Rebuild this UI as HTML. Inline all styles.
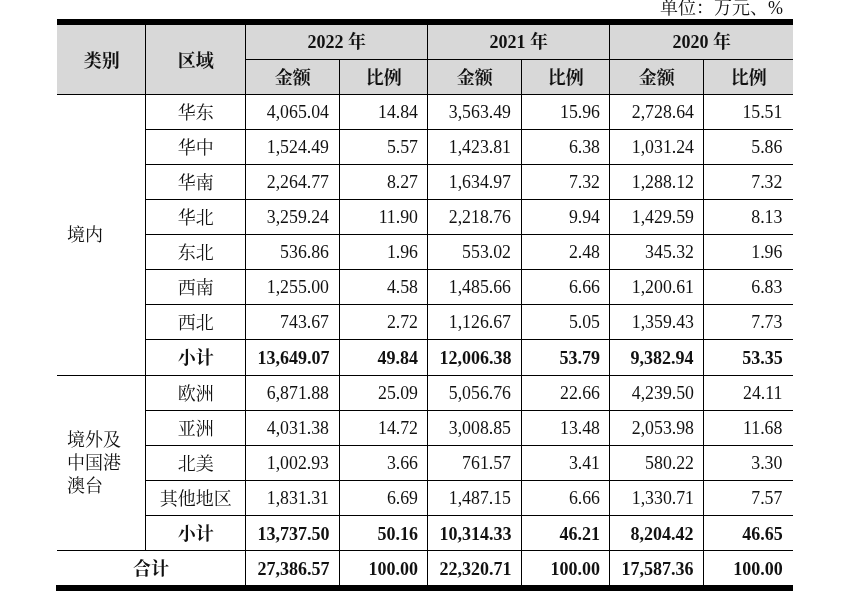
<!DOCTYPE html>
<html lang="zh-CN"><head><meta charset="utf-8"><title>table</title>
<style>
html,body{margin:0;padding:0;background:#fff;}
body{width:866px;height:602px;position:relative;overflow:hidden;
 font-family:"Liberation Serif","Noto Serif CJK SC",serif;font-size:18px;color:#111;}
.c,.cat{position:absolute;display:flex;align-items:center;box-sizing:border-box;white-space:nowrap;line-height:1;}
.c span,.cat span{display:block;position:relative;top:1px;}
.ctr{justify-content:center;text-align:center;}
.num{justify-content:flex-end;padding-right:10px;font-size:17.8px;}
.num.b{font-size:18px;padding-right:9.6px;}
.num.p,.num.p.b{padding-right:9px;}
.num.p3{padding-right:10.6px;}
.num.a3{padding-right:9px;}
.num.a3.b{padding-right:9.6px;}
.num.p3.b{padding-right:10.2px;}
.num span{top:1px}
.b,.h{font-weight:bold;}
.h{color:#111}
.cat{justify-content:flex-start;padding-left:10px;line-height:23px;white-space:normal;}
.l{position:absolute;background:#000;}
.bg{position:absolute;background:#d8d8d8;}
.cap{position:absolute;left:660px;top:-1.4px;white-space:nowrap;line-height:1;font-size:18px;}
</style></head><body>
<div class="bg" style="left:57px;top:19px;width:736px;height:75px"></div>
<div class="l" style="left:57px;top:19px;width:736px;height:6px"></div>
<div class="l" style="left:56px;top:585px;width:737px;height:6px"></div>
<div class="cap">单位：万元、%</div>
<div class="c h ctr" style="left:57.7px;top:25.0px;width:88.0px;height:69.0px;"><span>类别</span></div>
<div class="c h ctr" style="left:145.7px;top:25.0px;width:100.0px;height:69.0px;"><span>区域</span></div>
<div class="c h ctr" style="left:245.7px;top:23.6px;width:182.0px;height:35.4px;"><span>2022 年</span></div>
<div class="c h ctr" style="left:245.7px;top:59.0px;width:94.0px;height:35.0px;"><span>金额</span></div>
<div class="c h ctr" style="left:339.7px;top:59.0px;width:88.0px;height:35.0px;"><span>比例</span></div>
<div class="c h ctr" style="left:427.7px;top:23.6px;width:182.0px;height:35.4px;"><span>2021 年</span></div>
<div class="c h ctr" style="left:427.7px;top:59.0px;width:94.0px;height:35.0px;"><span>金额</span></div>
<div class="c h ctr" style="left:521.7px;top:59.0px;width:88.0px;height:35.0px;"><span>比例</span></div>
<div class="c h ctr" style="left:609.7px;top:23.6px;width:184.0px;height:35.4px;"><span>2020 年</span></div>
<div class="c h ctr" style="left:609.7px;top:59.0px;width:94.0px;height:35.0px;"><span>金额</span></div>
<div class="c h ctr" style="left:703.7px;top:59.0px;width:90.0px;height:35.0px;"><span>比例</span></div>
<div class="c ctr" style="left:145.7px;top:94.0px;width:100.0px;height:35.0px;"><span>华东</span></div>
<div class="c num" style="left:245.0px;top:94.0px;width:94.0px;height:35.0px;"><span>4,065.04</span></div>
<div class="c num p" style="left:339.0px;top:94.0px;width:88.0px;height:35.0px;"><span>14.84</span></div>
<div class="c num" style="left:427.0px;top:94.0px;width:94.0px;height:35.0px;"><span>3,563.49</span></div>
<div class="c num p" style="left:521.0px;top:94.0px;width:88.0px;height:35.0px;"><span>15.96</span></div>
<div class="c num a3" style="left:609.0px;top:94.0px;width:94.0px;height:35.0px;"><span>2,728.64</span></div>
<div class="c num p3" style="left:703.0px;top:94.0px;width:90.0px;height:35.0px;"><span>15.51</span></div>
<div class="c ctr" style="left:145.7px;top:129.0px;width:100.0px;height:35.0px;"><span>华中</span></div>
<div class="c num" style="left:245.0px;top:129.0px;width:94.0px;height:35.0px;"><span>1,524.49</span></div>
<div class="c num p" style="left:339.0px;top:129.0px;width:88.0px;height:35.0px;"><span>5.57</span></div>
<div class="c num" style="left:427.0px;top:129.0px;width:94.0px;height:35.0px;"><span>1,423.81</span></div>
<div class="c num p" style="left:521.0px;top:129.0px;width:88.0px;height:35.0px;"><span>6.38</span></div>
<div class="c num a3" style="left:609.0px;top:129.0px;width:94.0px;height:35.0px;"><span>1,031.24</span></div>
<div class="c num p3" style="left:703.0px;top:129.0px;width:90.0px;height:35.0px;"><span>5.86</span></div>
<div class="c ctr" style="left:145.7px;top:164.0px;width:100.0px;height:35.0px;"><span>华南</span></div>
<div class="c num" style="left:245.0px;top:164.0px;width:94.0px;height:35.0px;"><span>2,264.77</span></div>
<div class="c num p" style="left:339.0px;top:164.0px;width:88.0px;height:35.0px;"><span>8.27</span></div>
<div class="c num" style="left:427.0px;top:164.0px;width:94.0px;height:35.0px;"><span>1,634.97</span></div>
<div class="c num p" style="left:521.0px;top:164.0px;width:88.0px;height:35.0px;"><span>7.32</span></div>
<div class="c num a3" style="left:609.0px;top:164.0px;width:94.0px;height:35.0px;"><span>1,288.12</span></div>
<div class="c num p3" style="left:703.0px;top:164.0px;width:90.0px;height:35.0px;"><span>7.32</span></div>
<div class="c ctr" style="left:145.7px;top:199.0px;width:100.0px;height:35.0px;"><span>华北</span></div>
<div class="c num" style="left:245.0px;top:199.0px;width:94.0px;height:35.0px;"><span>3,259.24</span></div>
<div class="c num p" style="left:339.0px;top:199.0px;width:88.0px;height:35.0px;"><span>11.90</span></div>
<div class="c num" style="left:427.0px;top:199.0px;width:94.0px;height:35.0px;"><span>2,218.76</span></div>
<div class="c num p" style="left:521.0px;top:199.0px;width:88.0px;height:35.0px;"><span>9.94</span></div>
<div class="c num a3" style="left:609.0px;top:199.0px;width:94.0px;height:35.0px;"><span>1,429.59</span></div>
<div class="c num p3" style="left:703.0px;top:199.0px;width:90.0px;height:35.0px;"><span>8.13</span></div>
<div class="c ctr" style="left:145.7px;top:234.0px;width:100.0px;height:35.0px;"><span>东北</span></div>
<div class="c num" style="left:245.0px;top:234.0px;width:94.0px;height:35.0px;"><span>536.86</span></div>
<div class="c num p" style="left:339.0px;top:234.0px;width:88.0px;height:35.0px;"><span>1.96</span></div>
<div class="c num" style="left:427.0px;top:234.0px;width:94.0px;height:35.0px;"><span>553.02</span></div>
<div class="c num p" style="left:521.0px;top:234.0px;width:88.0px;height:35.0px;"><span>2.48</span></div>
<div class="c num a3" style="left:609.0px;top:234.0px;width:94.0px;height:35.0px;"><span>345.32</span></div>
<div class="c num p3" style="left:703.0px;top:234.0px;width:90.0px;height:35.0px;"><span>1.96</span></div>
<div class="c ctr" style="left:145.7px;top:269.0px;width:100.0px;height:35.0px;"><span>西南</span></div>
<div class="c num" style="left:245.0px;top:269.0px;width:94.0px;height:35.0px;"><span>1,255.00</span></div>
<div class="c num p" style="left:339.0px;top:269.0px;width:88.0px;height:35.0px;"><span>4.58</span></div>
<div class="c num" style="left:427.0px;top:269.0px;width:94.0px;height:35.0px;"><span>1,485.66</span></div>
<div class="c num p" style="left:521.0px;top:269.0px;width:88.0px;height:35.0px;"><span>6.66</span></div>
<div class="c num a3" style="left:609.0px;top:269.0px;width:94.0px;height:35.0px;"><span>1,200.61</span></div>
<div class="c num p3" style="left:703.0px;top:269.0px;width:90.0px;height:35.0px;"><span>6.83</span></div>
<div class="c ctr" style="left:145.7px;top:304.0px;width:100.0px;height:35.0px;"><span>西北</span></div>
<div class="c num" style="left:245.0px;top:304.0px;width:94.0px;height:35.0px;"><span>743.67</span></div>
<div class="c num p" style="left:339.0px;top:304.0px;width:88.0px;height:35.0px;"><span>2.72</span></div>
<div class="c num" style="left:427.0px;top:304.0px;width:94.0px;height:35.0px;"><span>1,126.67</span></div>
<div class="c num p" style="left:521.0px;top:304.0px;width:88.0px;height:35.0px;"><span>5.05</span></div>
<div class="c num a3" style="left:609.0px;top:304.0px;width:94.0px;height:35.0px;"><span>1,359.43</span></div>
<div class="c num p3" style="left:703.0px;top:304.0px;width:90.0px;height:35.0px;"><span>7.73</span></div>
<div class="c ctr b" style="left:145.7px;top:339.0px;width:100.0px;height:36.0px;"><span>小计</span></div>
<div class="c num b" style="left:245.0px;top:339.0px;width:94.0px;height:36.0px;"><span>13,649.07</span></div>
<div class="c num p b" style="left:339.0px;top:339.0px;width:88.0px;height:36.0px;"><span>49.84</span></div>
<div class="c num b" style="left:427.0px;top:339.0px;width:94.0px;height:36.0px;"><span>12,006.38</span></div>
<div class="c num p b" style="left:521.0px;top:339.0px;width:88.0px;height:36.0px;"><span>53.79</span></div>
<div class="c num a3 b" style="left:609.0px;top:339.0px;width:94.0px;height:36.0px;"><span>9,382.94</span></div>
<div class="c num p3 b" style="left:703.0px;top:339.0px;width:90.0px;height:36.0px;"><span>53.35</span></div>
<div class="c ctr" style="left:145.7px;top:375.0px;width:100.0px;height:35.0px;"><span>欧洲</span></div>
<div class="c num" style="left:245.0px;top:375.0px;width:94.0px;height:35.0px;"><span>6,871.88</span></div>
<div class="c num p" style="left:339.0px;top:375.0px;width:88.0px;height:35.0px;"><span>25.09</span></div>
<div class="c num" style="left:427.0px;top:375.0px;width:94.0px;height:35.0px;"><span>5,056.76</span></div>
<div class="c num p" style="left:521.0px;top:375.0px;width:88.0px;height:35.0px;"><span>22.66</span></div>
<div class="c num a3" style="left:609.0px;top:375.0px;width:94.0px;height:35.0px;"><span>4,239.50</span></div>
<div class="c num p3" style="left:703.0px;top:375.0px;width:90.0px;height:35.0px;"><span>24.11</span></div>
<div class="c ctr" style="left:145.7px;top:410.0px;width:100.0px;height:35.0px;"><span>亚洲</span></div>
<div class="c num" style="left:245.0px;top:410.0px;width:94.0px;height:35.0px;"><span>4,031.38</span></div>
<div class="c num p" style="left:339.0px;top:410.0px;width:88.0px;height:35.0px;"><span>14.72</span></div>
<div class="c num" style="left:427.0px;top:410.0px;width:94.0px;height:35.0px;"><span>3,008.85</span></div>
<div class="c num p" style="left:521.0px;top:410.0px;width:88.0px;height:35.0px;"><span>13.48</span></div>
<div class="c num a3" style="left:609.0px;top:410.0px;width:94.0px;height:35.0px;"><span>2,053.98</span></div>
<div class="c num p3" style="left:703.0px;top:410.0px;width:90.0px;height:35.0px;"><span>11.68</span></div>
<div class="c ctr" style="left:145.7px;top:445.0px;width:100.0px;height:35.0px;"><span>北美</span></div>
<div class="c num" style="left:245.0px;top:445.0px;width:94.0px;height:35.0px;"><span>1,002.93</span></div>
<div class="c num p" style="left:339.0px;top:445.0px;width:88.0px;height:35.0px;"><span>3.66</span></div>
<div class="c num" style="left:427.0px;top:445.0px;width:94.0px;height:35.0px;"><span>761.57</span></div>
<div class="c num p" style="left:521.0px;top:445.0px;width:88.0px;height:35.0px;"><span>3.41</span></div>
<div class="c num a3" style="left:609.0px;top:445.0px;width:94.0px;height:35.0px;"><span>580.22</span></div>
<div class="c num p3" style="left:703.0px;top:445.0px;width:90.0px;height:35.0px;"><span>3.30</span></div>
<div class="c ctr" style="left:145.7px;top:480.0px;width:100.0px;height:35.0px;"><span>其他地区</span></div>
<div class="c num" style="left:245.0px;top:480.0px;width:94.0px;height:35.0px;"><span>1,831.31</span></div>
<div class="c num p" style="left:339.0px;top:480.0px;width:88.0px;height:35.0px;"><span>6.69</span></div>
<div class="c num" style="left:427.0px;top:480.0px;width:94.0px;height:35.0px;"><span>1,487.15</span></div>
<div class="c num p" style="left:521.0px;top:480.0px;width:88.0px;height:35.0px;"><span>6.66</span></div>
<div class="c num a3" style="left:609.0px;top:480.0px;width:94.0px;height:35.0px;"><span>1,330.71</span></div>
<div class="c num p3" style="left:703.0px;top:480.0px;width:90.0px;height:35.0px;"><span>7.57</span></div>
<div class="c ctr b" style="left:145.7px;top:515.0px;width:100.0px;height:35.0px;"><span>小计</span></div>
<div class="c num b" style="left:245.0px;top:515.0px;width:94.0px;height:35.0px;"><span>13,737.50</span></div>
<div class="c num p b" style="left:339.0px;top:515.0px;width:88.0px;height:35.0px;"><span>50.16</span></div>
<div class="c num b" style="left:427.0px;top:515.0px;width:94.0px;height:35.0px;"><span>10,314.33</span></div>
<div class="c num p b" style="left:521.0px;top:515.0px;width:88.0px;height:35.0px;"><span>46.21</span></div>
<div class="c num a3 b" style="left:609.0px;top:515.0px;width:94.0px;height:35.0px;"><span>8,204.42</span></div>
<div class="c num p3 b" style="left:703.0px;top:515.0px;width:90.0px;height:35.0px;"><span>46.65</span></div>
<div class="c ctr b" style="left:56.9px;top:550.0px;width:188.0px;height:35.0px;"><span>合计</span></div>
<div class="c num b" style="left:245.0px;top:550.0px;width:94.0px;height:35.0px;"><span>27,386.57</span></div>
<div class="c num p b" style="left:339.0px;top:550.0px;width:88.0px;height:35.0px;"><span>100.00</span></div>
<div class="c num b" style="left:427.0px;top:550.0px;width:94.0px;height:35.0px;"><span>22,320.71</span></div>
<div class="c num p b" style="left:521.0px;top:550.0px;width:88.0px;height:35.0px;"><span>100.00</span></div>
<div class="c num a3 b" style="left:609.0px;top:550.0px;width:94.0px;height:35.0px;"><span>17,587.36</span></div>
<div class="c num p3 b" style="left:703.0px;top:550.0px;width:90.0px;height:35.0px;"><span>100.00</span></div>
<div class="cat" style="left:57px;top:94px;width:88px;height:281px"><span>境内</span></div>
<div class="cat" style="left:57px;top:375px;width:88px;height:175px"><span>境外及<br>中国港<br>澳台</span></div>
<div class="l" style="left:245.0px;top:59.0px;width:548.0px;height:1px"></div>
<div class="l" style="left:57.0px;top:94.0px;width:736.0px;height:1px"></div>
<div class="l" style="left:145.0px;top:129.0px;width:648.0px;height:1px"></div>
<div class="l" style="left:145.0px;top:164.0px;width:648.0px;height:1px"></div>
<div class="l" style="left:145.0px;top:199.0px;width:648.0px;height:1px"></div>
<div class="l" style="left:145.0px;top:234.0px;width:648.0px;height:1px"></div>
<div class="l" style="left:145.0px;top:269.0px;width:648.0px;height:1px"></div>
<div class="l" style="left:145.0px;top:304.0px;width:648.0px;height:1px"></div>
<div class="l" style="left:145.0px;top:339.0px;width:648.0px;height:1px"></div>
<div class="l" style="left:57.0px;top:375.0px;width:736.0px;height:1px"></div>
<div class="l" style="left:145.0px;top:410.0px;width:648.0px;height:1px"></div>
<div class="l" style="left:145.0px;top:445.0px;width:648.0px;height:1px"></div>
<div class="l" style="left:145.0px;top:480.0px;width:648.0px;height:1px"></div>
<div class="l" style="left:145.0px;top:515.0px;width:648.0px;height:1px"></div>
<div class="l" style="left:57.0px;top:550.0px;width:736.0px;height:1px"></div>
<div class="l" style="left:145.0px;top:25.0px;width:1px;height:525.0px"></div>
<div class="l" style="left:245.0px;top:25.0px;width:1px;height:560.0px"></div>
<div class="l" style="left:339.0px;top:59.0px;width:1px;height:526.0px"></div>
<div class="l" style="left:521.0px;top:59.0px;width:1px;height:526.0px"></div>
<div class="l" style="left:703.0px;top:59.0px;width:1px;height:526.0px"></div>
<div class="l" style="left:427.0px;top:25.0px;width:1px;height:560.0px"></div>
<div class="l" style="left:609.0px;top:25.0px;width:1px;height:560.0px"></div>
</body></html>
